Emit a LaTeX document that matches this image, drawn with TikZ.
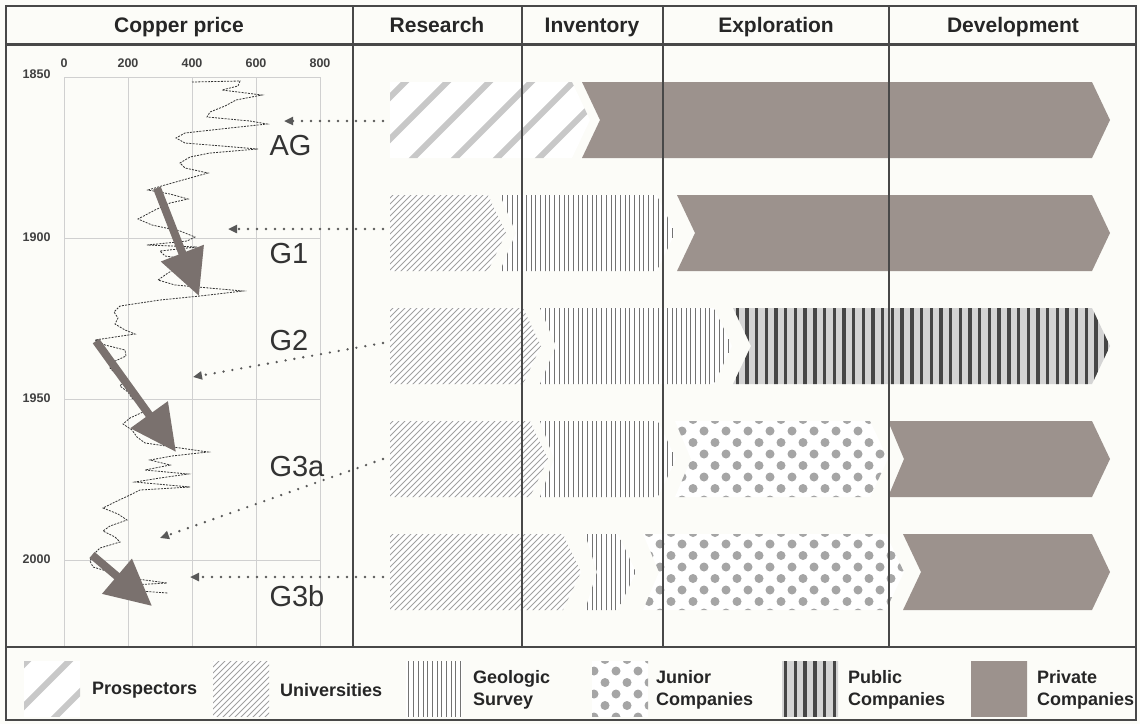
\documentclass[tikz,border=0pt]{standalone}
\usepackage{fontspec}
\setmainfont{Liberation Sans}
\usetikzlibrary{arrows.meta}

\definecolor{framegray}{RGB}{72,72,72}
\definecolor{gridgray}{RGB}{208,208,208}
\definecolor{paper}{RGB}{252,252,248}
\definecolor{privatebrown}{RGB}{156,146,141}
\definecolor{arrowbrown}{RGB}{122,113,110}
\definecolor{prospgray}{RGB}{200,200,200}
\definecolor{unigray}{RGB}{160,160,160}
\definecolor{surveygray}{RGB}{115,115,115}
\definecolor{juniorgray}{RGB}{165,165,165}
\definecolor{publicback}{RGB}{212,212,212}
\definecolor{publicline}{RGB}{70,70,70}

\tikzset{
  frame/.style={draw=framegray, line width=2},
  divider/.style={draw=framegray, line width=1.6},
  gridline/.style={draw=gridgray, line width=0.8},
  price/.style={draw=black!80, line width=0.8, dash pattern=on 2pt off 1.2pt},
  trend/.style={draw=arrowbrown, line width=8, -{Triangle[length=46pt,width=44pt]}},
  pointer/.style={draw=black!65, line width=2.6, line cap=round, dash pattern=on 0pt off 9pt, -{Triangle[length=9pt,width=8pt]}},
  head/.style={font=\fontsize{21}{25}\selectfont\bfseries, text=black!85, anchor=base},
  tick/.style={font=\fontsize{12.5}{14}\selectfont\bfseries, text=black!75},
  gen/.style={font=\fontsize{29}{33}\selectfont, text=black!80, anchor=west},
  keytext/.style={font=\fontsize{18}{22}\selectfont\bfseries, text=black!85, anchor=west, align=left, inner sep=0}
}

\begin{document}
\begin{tikzpicture}[x=1pt, y=-1pt]

    % constants
    \def\rowh{76}
    \def\tipd{18}
    \def\barend{1092}

    % fills, one per actor, drawn over a whole row and clipped later
    \def\patprospectors#1{%
        \fill[white] (0,{#1-5}) rectangle (1140,{#1+85});
        \foreach \k in {-100,-58,...,1140}
            \draw[prospgray, line width=6] (\k,{#1+85}) -- ++(90,-90);}
    \def\patuniversities#1{%
        \fill[white] (0,{#1-5}) rectangle (1140,{#1+85});
        \foreach \k in {-100,-94,...,1140}
            \draw[unigray, line width=0.9] (\k,{#1+85}) -- ++(90,-90);}
    \def\patsurvey#1{%
        \fill[white] (0,{#1-5}) rectangle (1140,{#1+85});
        \foreach \k in {0,4.7,...,1140}
            \draw[surveygray, line width=0.9] (\k,{#1-5}) -- (\k,{#1+85});}
    \def\patjunior#1{%
        \fill[white] (0,{#1-5}) rectangle (1140,{#1+85});
        \foreach \r in {-1,...,7}
            \foreach \k in {0,22,...,1140}
                \fill[juniorgray] ({\k+11*mod(\r+10,2)},{#1+10+11.5*\r}) circle (4.5);}
    \def\patpublic#1{%
        \fill[publicback] (0,{#1-5}) rectangle (1140,{#1+85});
        \foreach \k in {0,9.7,...,1140}
            \draw[publicline, line width=3.4] (\k,{#1-5}) -- (\k,{#1+85});}
    \def\patprivate#1{%
        \fill[privatebrown] (0,{#1-5}) rectangle (1140,{#1+85});}

    % kind, left, right, top, depth of left notch
    \def\seg#1#2#3#4#5{%
        \begin{scope}
            \clip (#2,#4) -- (#3,#4) -- ({#3+\tipd},{#4+\rowh/2}) -- (#3,{#4+\rowh}) -- (#2,{#4+\rowh}) -- ({#2+#5},{#4+\rowh/2}) -- cycle;
            \csname pat#1\endcsname{#4}
        \end{scope}}

    % kind, left, top
    \def\key#1#2#3{%
        \begin{scope}
            \clip (#2,#3) rectangle ({#2+56},{#3+55});
            \csname pat#1\endcsname{#3}
        \end{scope}}

    \useasboundingbox (0,0) rectangle (1140,724);
    \fill[paper] (0,0) rectangle (1140,724);

    % price grid
    \foreach \x in {64,128,...,320}
        \draw[gridline] (\x,77) -- (\x,647);
    \foreach \y in {77,238,399,560}
        \draw[gridline] (64,\y) -- (320,\y);

    \node[tick] (p0) at (64,63) {0};
    \node[tick] (p200) at (128,63) {200};
    \node[tick] (p400) at (192,63) {400};
    \node[tick] (p600) at (256,63) {600};
    \node[tick] (p800) at (320,63) {800};
    \node[tick, anchor=east] (y1850) at (54,74) {1850};
    \node[tick, anchor=east] (y1900) at (54,237) {1900};
    \node[tick, anchor=east] (y1950) at (54,398) {1950};
    \node[tick, anchor=east] (y2000) at (54,559) {2000};

    % copper price curve
    \draw[price] plot coordinates {(192,82) (240,81) (238,86) (222,90) (262,95) (236,100) (225,106) (210,112) (207,117) (250,121) (267,124) (230,128) (185,133) (176,138) (185,143) (258,149) (210,153) (190,157) (180,163) (185,168) (208,173) (190,178) (165,185) (148,190) (170,194) (188,199) (170,203) (155,210) (138,219) (152,225) (180,231) (195,237) (187,241) (147,245) (197,247) (160,251) (165,256) (200,261) (180,266) (168,273) (158,280) (175,285) (243,291) (200,296) (160,300) (120,306) (114,312) (118,318) (115,324) (125,330) (135,334) (95,340) (105,345) (125,350) (126,356) (113,362) (110,368) (116,374) (125,380) (120,386) (128,392) (132,398) (140,405) (143,412) (130,418) (123,424) (132,430) (137,437) (145,443) (208,452) (172,456) (150,460) (170,465) (145,470) (188,474) (160,478) (135,482) (190,487) (140,490) (130,495) (115,502) (103,508) (118,514) (127,520) (110,526) (103,531) (115,537) (120,542) (100,548) (93,555) (90,561) (93,567) (110,572) (130,578) (167,583) (115,586) (125,590) (168,593)};

    % falling price trends
    \coordinate (t1s) at (157,188);
    \coordinate (t1e) at (199,296);
    \coordinate (t2s) at (96,341);
    \coordinate (t2e) at (176,452);
    \coordinate (t3s) at (92,555);
    \coordinate (t3e) at (152,606);
    \draw[trend] (t1s) -- (t1e);
    \draw[trend] (t2s) -- (t2e);
    \draw[trend] (t3s) -- (t3e);

    % AG
    \seg{prospectors}{390}{572}{82}{0}
    \seg{private}{582}{\barend}{82}{18}
    % G1
    \seg{universities}{390}{488}{195}{0}
    \seg{survey}{500}{657}{195}{16}
    \seg{private}{677}{\barend}{195}{18}
    % G2
    \seg{universities}{390}{523}{308}{0}
    \seg{survey}{540}{714}{308}{16}
    \seg{public}{733}{\barend}{308}{18}
    % G3a
    \seg{universities}{390}{530}{421}{0}
    \seg{survey}{540}{658}{421}{14}
    \seg{junior}{675}{870}{421}{16}
    \seg{private}{888}{\barend}{421}{16}
    % G3b
    \seg{universities}{390}{563}{534}{0}
    \seg{survey}{585}{618}{534}{12}
    \seg{junior}{643}{886}{534}{16}
    \seg{private}{903}{\barend}{534}{18}

    % table lines
    \foreach \x in {353,522,663,889}
        \draw[divider] (\x,5) -- (\x,647);
    \draw[frame, line width=3] (5,44) -- (1136,44);
    \draw[frame, line width=2.5] (5,647) -- (1136,647);
    \draw[frame] (5.5,5.5) rectangle (1136,720);

    % column heads
    \node[head] (hcopper) at (179,32) {Copper price};
    \node[head] (hresearch) at (437,32) {Research};
    \node[head] (hinventory) at (592,32) {Inventory};
    \node[head] (hexploration) at (776,32) {Exploration};
    \node[head] (hdevelopment) at (1013,32) {Development};

    % generations
    \node[gen] (gAG) at (266,146) {AG};
    \node[gen] (gG1) at (266,254) {G1};
    \node[gen] (gG2) at (266,341) {G2};
    \node[gen] (gG3a) at (266,467) {G3a};
    \node[gen] (gG3b) at (266,596) {G3b};

    \coordinate (agS) at (383,121);
    \coordinate (agT) at (284,121);
    \coordinate (g1S) at (383,229);
    \coordinate (g1T) at (228,229);
    \coordinate (g2S) at (383,343);
    \coordinate (g2T) at (193,377);
    \coordinate (g3aS) at (383,459);
    \coordinate (g3aT) at (160,538);
    \coordinate (g3bS) at (383,577);
    \coordinate (g3bT) at (190,577);
    \draw[pointer] (agS) -- (agT);
    \draw[pointer] (g1S) -- (g1T);
    \draw[pointer] (g2S) -- (g2T);
    \draw[pointer] (g3aS) -- (g3aT);
    \draw[pointer] (g3bS) -- (g3bT);

    % legend
    \key{prospectors}{24}{661}
    \key{universities}{213}{661}
    \key{survey}{406}{661}
    \key{junior}{592}{661}
    \key{public}{782}{661}
    \key{private}{971}{661}
    \node[keytext] (kprospectors) at (92,690) {Prospectors};
    \node[keytext] (kuniversities) at (280,690) {Universities};
    \node[keytext] (ksurvey) at (473,690) {Geologic\\Survey};
    \node[keytext] (kjunior) at (656,690) {Junior\\Companies};
    \node[keytext] (kpublic) at (848,690) {Public\\Companies};
    \node[keytext] (kprivate) at (1037,690) {Private\\Companies};

\end{tikzpicture}
\end{document}
